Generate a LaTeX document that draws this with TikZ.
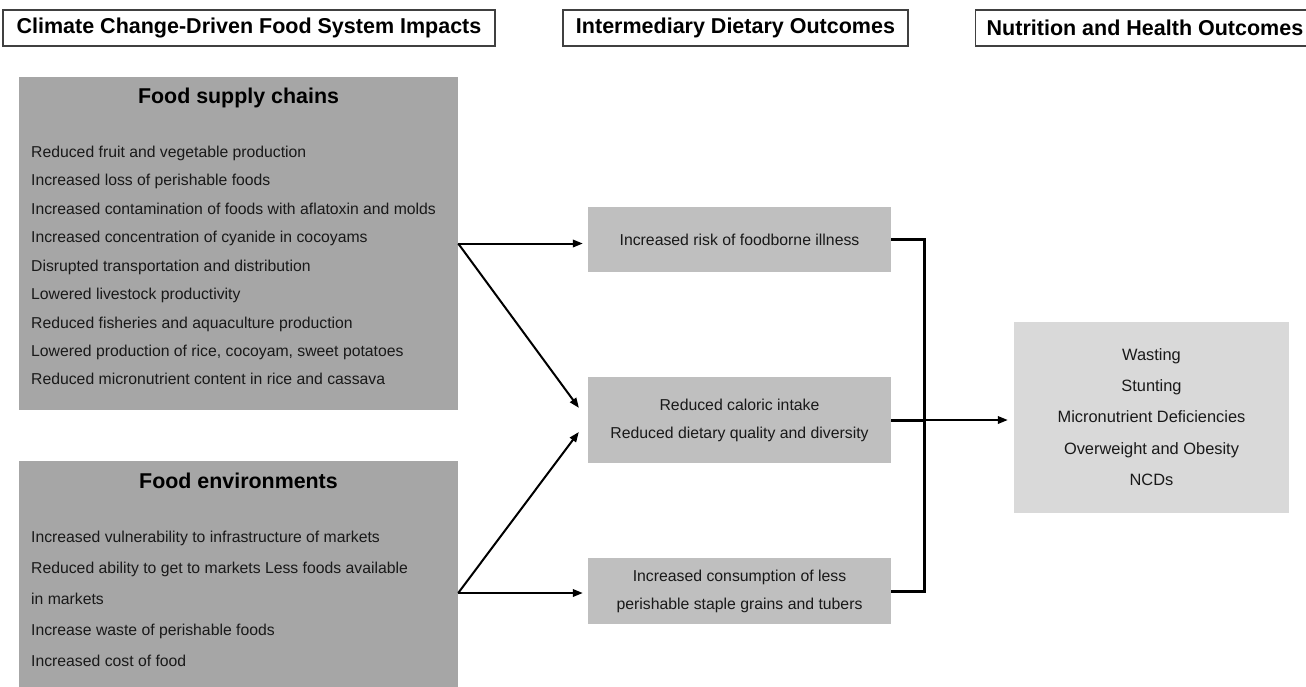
\documentclass[tikz,border=0pt]{standalone}
\usepackage{fontspec}
\setmainfont{Liberation Sans}
\usepackage{tikz}
\usetikzlibrary{arrows.meta}

\definecolor{darkbox}{HTML}{A6A6A6}
\definecolor{midbox}{HTML}{BFBFBF}
\definecolor{lightbox}{HTML}{D9D9D9}

\tikzset{
  header/.style={draw=black!75, line width=1.4pt, fill=white, inner sep=0pt,
    minimum height=36, font=\fontsize{21.5}{24}\selectfont\bfseries},
  panel/.style={fill=darkbox, inner sep=0pt, minimum width=439},
  paneltitle/.style={anchor=base, inner sep=0pt, font=\fontsize{21.4}{24}\selectfont\bfseries},
  item/.style={anchor=base west, inner sep=0pt, text=black!90, font=\fontsize{15.76}{18}\selectfont},
  outcome/.style={fill=midbox, inner sep=0pt, minimum width=303, align=center,
    text=black!90, font=\fontsize{15.8}{28}\selectfont},
  link/.style={line width=2pt, -{Triangle[length=10pt,width=7.5pt]}},
  bracket/.style={line width=3pt}
}

\begin{document}
\begin{tikzpicture}[x=1pt, y=-1pt]
  \useasboundingbox (0,0) rectangle (1306,686);

  % column headers
  \node[header, minimum width=492] (hdrA) at (249,28) {Climate Change-Driven Food System Impacts};
  \node[header, minimum width=345] (hdrB) at (735.5,28) {Intermediary Dietary Outcomes};
  \node[header, anchor=west, inner xsep=11pt] (hdrC) at (975,28) {Nutrition and Health Outcomes};

  % food system panels
  \node[panel, minimum height=333] (supply) at (238.5,243.5) {};
  \node[paneltitle] (supplyT) at (238.5,103) {Food supply chains};
  \foreach \txt [count=\i] in {Reduced fruit and vegetable production,
      Increased loss of perishable foods,
      Increased contamination of foods with aflatoxin and molds,
      Increased concentration of cyanide in cocoyams,
      Disrupted transportation and distribution,
      Lowered livestock productivity,
      Reduced fisheries and aquaculture production,
      {Lowered production of rice, cocoyam, sweet potatoes},
      Reduced micronutrient content in rice and cassava}
    \node[item] (sc\i) at (31,{157.3+28.46*(\i-1)}) {\txt};

  \node[panel, minimum height=264] (env) at (238.5,593) {};
  \node[paneltitle] (envT) at (238.5,488) {Food environments};
  \foreach \txt [count=\i] in {Increased vulnerability to infrastructure of markets,
      Reduced ability to get to markets Less foods available,
      in markets,
      Increase waste of perishable foods,
      Increased cost of food}
    \node[item] (fe\i) at (31,{542.7+31*(\i-1)}) {\txt};

  % intermediary outcomes
  \node[outcome, minimum height=65] (risk) at (739.5,239.5) {Increased risk of foodborne illness};
  \node[outcome, minimum height=86] (diet) at (739.5,420) {Reduced caloric intake\\Reduced dietary quality and diversity};
  \node[outcome, minimum height=66] (staple) at (739.5,591) {Increased consumption of less\\perishable staple grains and tubers};

  % nutrition and health outcomes
  \node[fill=lightbox, inner sep=0pt, minimum width=275, minimum height=191, align=center,
    text=black!90, font=\fontsize{16.4}{31.3}\selectfont] (health) at (1151.5,417)
    {Wasting\\Stunting\\Micronutrient Deficiencies\\Overweight and Obesity\\NCDs};

  % connectors
  \draw[link, shorten >=5pt] (supply.east) -- (supply.east -| risk.west);
  \draw[link, shorten >=15pt] (supply.east) -- (diet.west);
  \draw[link, shorten >=15pt] (env.east) -- (diet.west);
  \draw[link, shorten >=5pt] (env.east) -- (env.east -| staple.west);

  \coordinate (bar) at (924,420);
  \draw[bracket] (risk.east) -| (bar) |- (staple.east);
  \draw[bracket] (diet.east) -- (bar);
  \draw[link, shorten >=6pt] (bar) -- (bar -| health.west);
\end{tikzpicture}
\end{document}
